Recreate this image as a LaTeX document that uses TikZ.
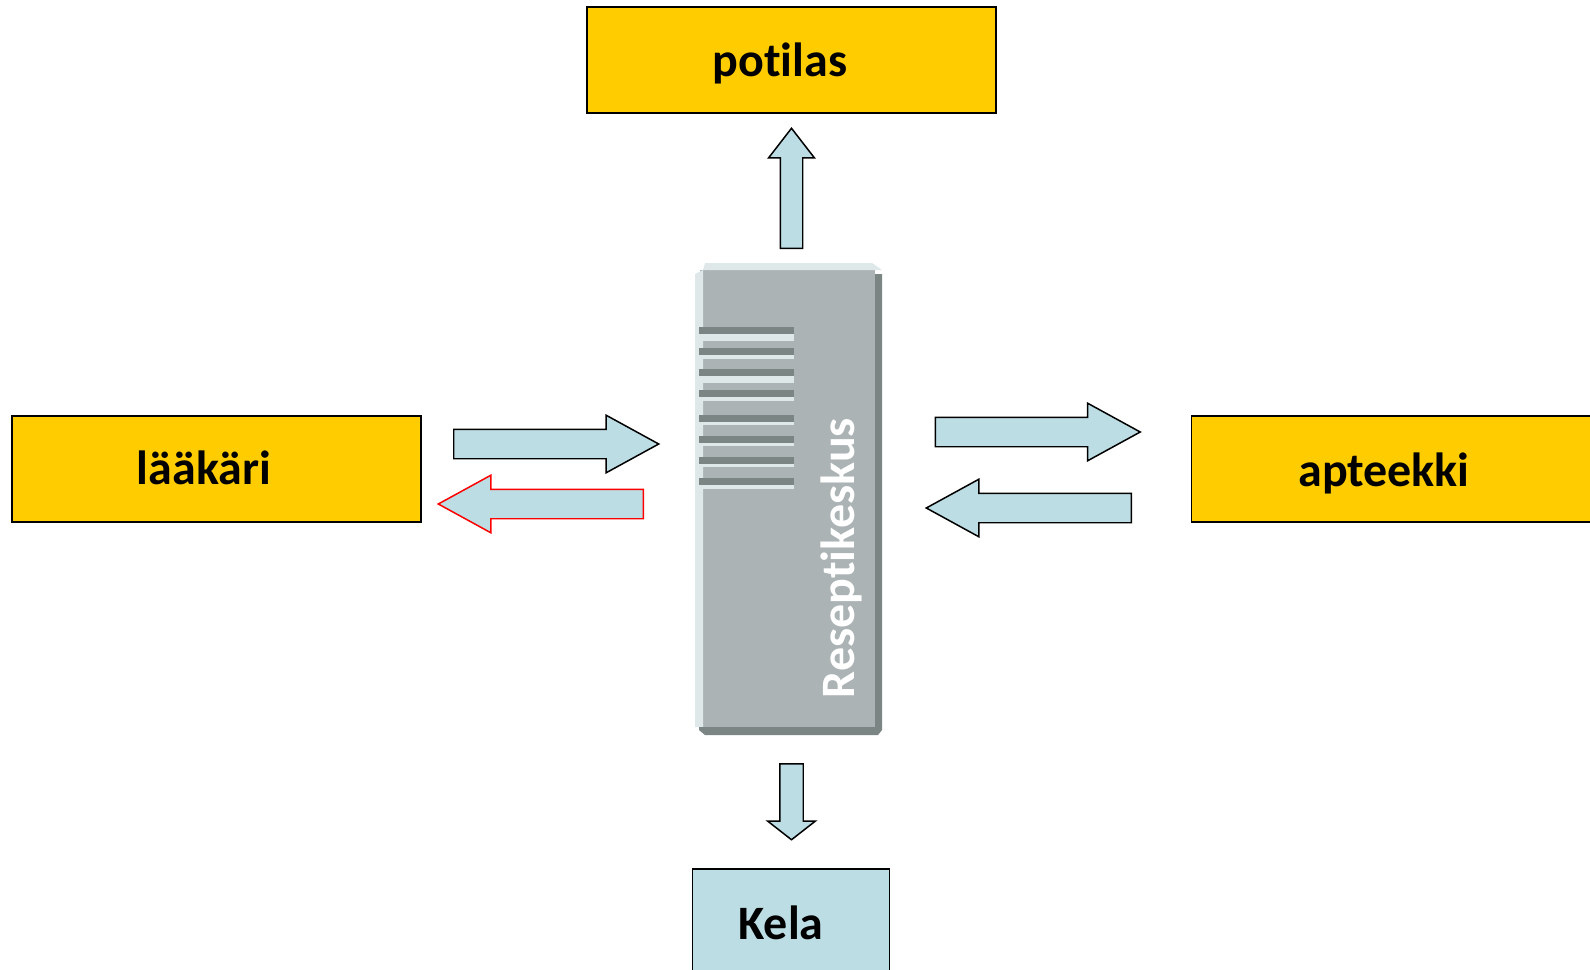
\documentclass[tikz,border=0pt]{standalone}
\usepackage{fontspec}
\setmainfont[Ligatures=NoCommon]{Carlito}
\usetikzlibrary{shapes.arrows}
\definecolor{boxorange}{HTML}{FFCC00}
\definecolor{boxblue}{HTML}{BBDDE3}
\definecolor{servergray}{HTML}{ABB3B4}
\definecolor{serverdark}{HTML}{7B8583}
\definecolor{serverlight}{HTML}{DEE8E9}
\begin{document}
\begin{tikzpicture}[x=0.02cm,y=-0.02cm,
        box/.style={draw,line width=0.9pt,inner sep=0pt,minimum height=2.12cm},
        boxtext/.style={font=\fontsize{27.3}{32}\selectfont\bfseries,inner sep=0pt},
        blockarrow/.style={single arrow,draw,fill=boxblue,line width=0.85pt,anchor=tail,
            single arrow head indent=0pt},
        longarrow/.style={blockarrow,inner xsep=0pt,minimum height=4.1cm,inner ysep=0.28cm,
            single arrow head extend=0.28cm,single arrow tip angle=57.4}]
        \clip (0,0) rectangle (1590,970);
        % boxes
        \node[box,fill=boxorange,minimum width=8.18cm] (potilas) at (791.5,60) {};
        \node[box,fill=boxorange,minimum width=8.18cm] (laakari) at (216.5,469) {};
        \node[box,fill=boxorange,minimum width=8.18cm] (apteekki) at (1396,469) {};
        \node[box,fill=boxblue,minimum width=3.94cm,minimum height=2.4cm] (kela) at (791,929) {};
        \node[boxtext] (potilastext) at (780,63) {potilas};
        \node[boxtext] (laakaritext) at (204,468) {lääkäri};
        \node[boxtext] (apteekkitext) at (1384,473) {apteekki};
        \node[boxtext] (kelatext) at (781,923) {Kela};
        % server
        \fill[servergray] (700,270) rectangle (875,727);
        \fill[serverlight] (695,274) -- (703,270) -- (705,263) -- (872,263) -- (882,270) -- (875,270) -- (703,270) -- (703,727) -- (695,727) -- cycle;
        \fill[serverdark] (875,274) -- (882,274) -- (882,730) -- (878,735) -- (705,735) -- (699,730) -- (699,727) -- (875,727) -- cycle;
        \foreach \y/\h in {327/7,348/4,369/7,390/4,415/3,436/3,457/3,478/4} {
            \fill[serverlight] (703,\y+7) rectangle (794,\y+7+\h);
            \fill[serverdark] (699,\y) rectangle (794,\y+7);
        }
        \node[rotate=90,text=white,font=\fontsize{27.3}{32}\selectfont\bfseries,inner sep=0pt] (server) at (841,558) {Reseptikeskus};
        % arrows
        \node[longarrow] (toserver) at (453,444) {};
        \node[longarrow,draw=red,shape border rotate=180] (fromserver) at (644,504) {};
        \node[longarrow] (toapteekki) at (934.5,432) {};
        \node[longarrow,shape border rotate=180] (fromapteekki) at (1132,508) {};
        \node[blockarrow,shape border rotate=90,minimum height=2.4cm,inner xsep=0.21cm,inner ysep=0pt,
            single arrow head extend=0.235cm,single arrow tip angle=75.5] (topotilas) at (791.5,249) {};
        \node[blockarrow,shape border rotate=270,minimum height=1.52cm,inner xsep=0.22cm,inner ysep=0pt,
            single arrow head extend=0.24cm,single arrow tip angle=104] (tokela) at (791.5,763) {};
\end{tikzpicture}
\end{document}
